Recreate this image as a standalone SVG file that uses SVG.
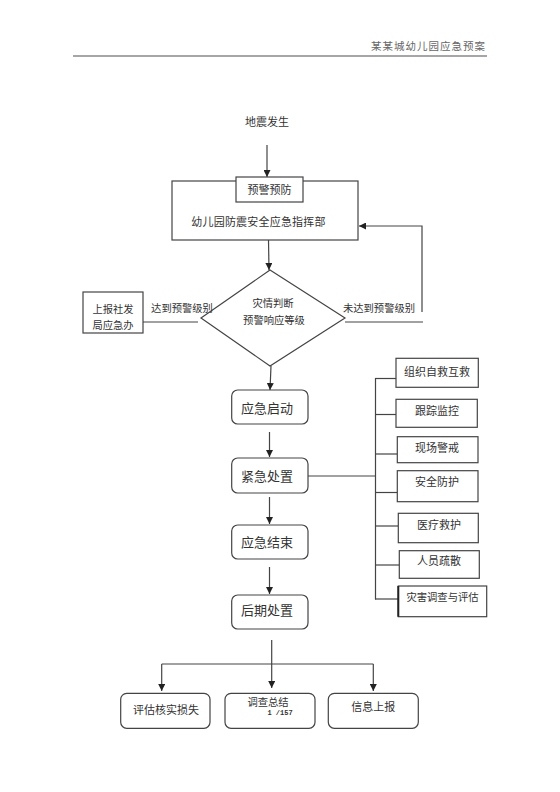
<svg xmlns="http://www.w3.org/2000/svg" width="560" height="792" viewBox="0 0 560 792">
<style>
text{font-family:"Liberation Serif","Noto Sans CJK SC",serif;fill:#333;text-anchor:middle;dominant-baseline:central}
.box{fill:#fff;stroke:#444;stroke-width:1.2}
.ln{fill:none;stroke:#444;stroke-width:1.2}
.f13{font-size:13px}.f11{font-size:11px}.f10{font-size:10.3px}
</style>
<defs>
<marker id="ah" markerUnits="userSpaceOnUse" markerWidth="7" markerHeight="7" refX="7" refY="3.5" orient="auto">
<path d="M0,0 L7,3.5 L0,7 z" fill="#222"/>
</marker>
</defs>
<rect width="560" height="792" fill="#fff"/>
<g id="header">
<text x="486" y="46" style="font-size:10.5px;text-anchor:end;fill:#666;letter-spacing:1px">某某城幼儿园应急预案</text>
<line x1="73" y1="56" x2="487" y2="56" stroke="#888" stroke-width="1.6"/>
</g>
<g id="connectors">
<line class="ln" x1="267" y1="145" x2="267" y2="177" marker-end="url(#ah)"/>
<line class="ln" x1="268.5" y1="240" x2="269" y2="270" marker-end="url(#ah)"/>
<polyline class="ln" points="422,312 422,226 359,226" marker-end="url(#ah)"/>
<line class="ln" x1="345" y1="322" x2="423" y2="322"/>
<line class="ln" x1="143" y1="322" x2="198" y2="322"/>
<line class="ln" x1="271" y1="366" x2="270" y2="390" marker-end="url(#ah)"/>
<line class="ln" x1="269.5" y1="432" x2="269.5" y2="457" marker-end="url(#ah)"/>
<line class="ln" x1="308" y1="476" x2="376" y2="476"/>
<line class="ln" x1="375.5" y1="378" x2="375.5" y2="599.5"/>
<line class="ln" x1="375" y1="378.5" x2="396" y2="378.5"/>
<line class="ln" x1="375" y1="414.5" x2="396" y2="414.5"/>
<line class="ln" x1="375" y1="454" x2="397" y2="454"/>
<line class="ln" x1="375" y1="492.5" x2="397" y2="492.5"/>
<line class="ln" x1="375" y1="526" x2="398" y2="526"/>
<line class="ln" x1="375" y1="565" x2="399" y2="565" stroke-width="1.8"/>
<line class="ln" x1="375" y1="599" x2="398" y2="599"/>
<line class="ln" x1="269.5" y1="497" x2="269.5" y2="524" marker-end="url(#ah)"/>
<line class="ln" x1="269.5" y1="567" x2="269.5" y2="594" marker-end="url(#ah)"/>
<line class="ln" x1="271.7" y1="640" x2="271.7" y2="688" marker-end="url(#ah)"/>
<line class="ln" x1="161.7" y1="664" x2="373.3" y2="664"/>
<line class="ln" x1="161.7" y1="664" x2="161.7" y2="691" marker-end="url(#ah)"/>
<line class="ln" x1="373.3" y1="664" x2="373.3" y2="691" marker-end="url(#ah)"/>
</g>
<g id="n-start"><text class="f11" x="267" y="122">地震发生</text></g>
<g id="n-command">
<rect class="box" x="172" y="181" width="186" height="59"/>
<text class="f11" x="258.5" y="222" style="letter-spacing:0.2px">幼儿园防震安全应急指挥部</text>
</g>
<g id="n-warn">
<rect class="box" x="236" y="177" width="67" height="25"/>
<text class="f11" x="269.5" y="190">预警预防</text>
</g>
<g id="n-judge">
<polygon class="box" points="270,270 345,318 270,366 201,318"/>
<text class="f10" x="273" y="303">灾情判断</text>
<text class="f10" x="274" y="320">预警响应等级</text>
</g>
<g id="n-report">
<rect class="box" x="83" y="292" width="60" height="41"/>
<text class="f10" x="113" y="309">上报社发</text>
<text class="f10" x="113" y="325">局应急办</text>
</g>
<g id="lbl-reach"><text class="f10" x="182" y="308">达到预警级别</text></g>
<g id="lbl-notreach"><text class="f10" x="379" y="308">未达到预警级别</text></g>
<g id="n-start2">
<rect class="box" x="231.7" y="390" width="76.3" height="34" rx="6"/>
<text class="f13" x="267" y="408">应急启动</text>
</g>
<g id="n-dispose">
<rect class="box" x="231.7" y="458" width="76.3" height="35" rx="6"/>
<text class="f13" x="267" y="476.5">紧急处置</text>
</g>
<g id="n-end">
<rect class="box" x="231.7" y="525" width="76.3" height="34" rx="6"/>
<text class="f13" x="267" y="542.5">应急结束</text>
</g>
<g id="n-after">
<rect class="box" x="231.7" y="595" width="76.3" height="34" rx="6"/>
<text class="f13" x="267" y="610">后期处置</text>
</g>
<g id="t1"><rect class="box" x="396" y="358.3" width="82.3" height="29"/><text class="f11" x="437" y="371.5">组织自救互救</text></g>
<g id="t2"><rect class="box" x="396" y="399.3" width="81.3" height="28"/><text class="f11" x="437" y="411">跟踪监控</text></g>
<g id="t3"><rect class="box" x="397.3" y="436.7" width="80.7" height="26"/><text class="f11" x="437" y="447.5">现场警戒</text></g>
<g id="t4"><rect class="box" x="397.3" y="470.7" width="80.7" height="31"/><text class="f11" x="437" y="482">安全防护</text></g>
<g id="t5"><rect class="box" x="398.3" y="513.3" width="80" height="29.4"/><text class="f11" x="439" y="525">医疗救护</text></g>
<g id="t6"><rect class="box" x="399.3" y="550.7" width="80" height="27.6"/><text class="f11" x="439" y="561">人员疏散</text></g>
<g id="t7"><rect class="box" x="398.3" y="586" width="88.4" height="30.7"/><line x1="398.3" y1="586" x2="398.3" y2="616.7" stroke="#222" stroke-width="2"/><text class="f10" x="442.5" y="597">灾害调查与评估</text></g>
<g id="b1">
<rect class="box" x="120.7" y="693.3" width="89.3" height="35" rx="6"/>
<text class="f11" x="166" y="710">评估核实损失</text>
</g>
<g id="b2">
<rect class="box" x="225" y="693.3" width="90" height="35" rx="6"/>
<text class="f10" x="268" y="702">调查总结</text>
<text x="280" y="712.5" style="font-size:7px;font-weight:bold;font-family:'Liberation Mono',monospace">1 /157</text>
</g>
<g id="b3">
<rect class="box" x="328.3" y="693.3" width="90" height="35" rx="6"/>
<text class="f11" x="373.3" y="706.7">信息上报</text>
</g>
</svg>
